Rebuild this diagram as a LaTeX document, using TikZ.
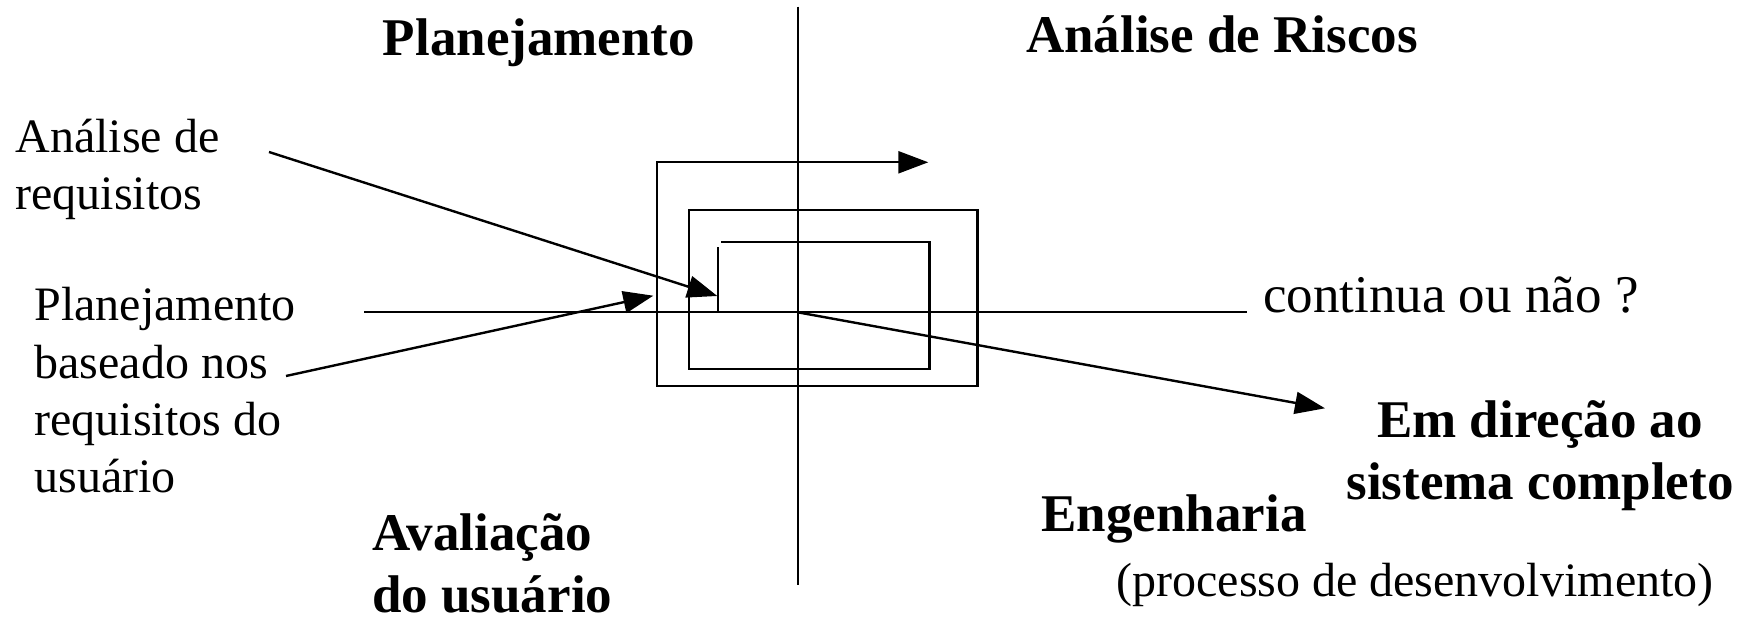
\documentclass[tikz,border=0pt]{standalone}
\usepackage{fontspec}
\setmainfont{Liberation Serif}
\usetikzlibrary{arrows.meta}

\begin{document}
\begin{tikzpicture}[x=0.5pt,y=-0.5pt,line width=1.2pt,
                    >={Triangle[length=15pt,width=11pt]},
                    every node/.style={inner sep=0pt,align=left},
                    lbl/.style={font=\fontsize{24}{28.7}\selectfont},
                    quad/.style={font=\bfseries\fontsize{26.5}{31.3}\selectfont}]
\useasboundingbox (0,0) rectangle (1751,619);
% eixos dos quadrantes
\coordinate (top) at (797.7,6.7);
\coordinate (bottom) at (797.7,585);
\coordinate (left) at (364.3,312.3);
\coordinate (right) at (1246.7,312.3);
\coordinate (o) at (797.7,312.3);
\draw (top) -- (bottom);
\draw (left) -- (right);
% espiral
\coordinate (s0) at (717.7,312.3);
\coordinate (s1) at (717.7,247.3);
\coordinate (s2) at (721,242.3);
\coordinate (s3) at (928.3,162.3);
\draw (s0) -- (s1);
\draw[->] (s2) -| (929.3,369.3) -| (689,210) -| (977.3,386) -| (656.7,162.3) -- (s3);
% rotulos (base = ultima linha)
\node[quad,anchor=base] (plan) at (539,56) {Planejamento};
\node[quad,anchor=base] (risco) at (1222,53) {Análise de Riscos};
\node[lbl,anchor=base west] (req) at (14.3,210) {Análise de\\requisitos};
\node[lbl,anchor=base west] (pbase) at (33.3,493) {Planejamento\\baseado nos\\requisitos do\\usuário};
\node[lbl,font=\fontsize{26.5}{30}\selectfont,anchor=base west] (cont) at (1262,313) {continua ou não ?};
\node[quad,anchor=base,align=center] (sist) at (1540,500) {Em direção ao\\sistema completo};
\node[quad,anchor=base] (eng) at (1174,532) {Engenharia};
\node[lbl,anchor=base] (proc) at (1415,597) {(processo de desenvolvimento)};
\node[quad,anchor=base west] (aval) at (371,613) {Avaliação\\do usuário};
% setas
\coordinate (reqA) at (269,152);
\coordinate (pbA) at (286,376);
\coordinate (pbB) at (653.3,295.7);
\coordinate (fim) at (1325,408.3);
\draw[->] (reqA) -- (717.3,296);
\draw[->] (pbA) -- (pbB);
\draw[->] (o) -- (fim);
\end{tikzpicture}
\end{document}
